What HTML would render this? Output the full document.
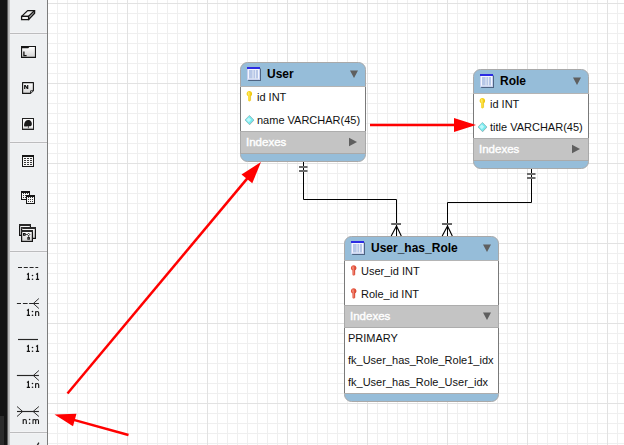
<!DOCTYPE html>
<html><head><meta charset="utf-8">
<style>
html,body{margin:0;padding:0;background:#fff;}
#root{position:relative;width:624px;height:445px;overflow:hidden;background:#fff;font-family:"Liberation Sans",sans-serif;}
svg{position:absolute;left:0;top:0;overflow:visible;}
.t{position:absolute;white-space:nowrap;font-size:11px;line-height:13px;color:#111;}
.h{position:absolute;white-space:nowrap;font-size:12px;line-height:14px;font-weight:bold;color:#000;}
.ix{position:absolute;white-space:nowrap;font-size:11.5px;line-height:13px;color:#fff;-webkit-text-stroke:0.4px #fff;}
</style></head>
<body><div id="root">
<svg width="624" height="445" viewBox="0 0 624 445" shape-rendering="crispEdges">
<defs>
    <pattern id="gmin" x="7" y="3" width="10" height="10" patternUnits="userSpaceOnUse">
      <rect x="0" y="0" width="1" height="10" fill="#efefef"/>
      <rect x="0" y="0" width="10" height="1" fill="#efefef"/>
    </pattern>
    <pattern id="gmaj" x="47" y="3" width="80" height="80" patternUnits="userSpaceOnUse">
      <rect x="0" y="0" width="1" height="80" fill="#e2e2e2"/>
      <rect x="0" y="0" width="80" height="1" fill="#e2e2e2"/>
    </pattern>
  </defs>
  <rect x="48" y="0" width="576" height="445" fill="url(#gmin)"/>
  <rect x="48" y="0" width="576" height="445" fill="url(#gmaj)"/>

  <rect x="0" y="0" width="7" height="445" fill="#141414"/>
  <rect x="7" y="0" width="1" height="445" fill="#5c5c5c"/>
  <rect x="8" y="0" width="1" height="445" fill="#b4b4b4"/>
  <rect x="9" y="0" width="1" height="445" fill="#c4c4c4"/>
  <rect x="10" y="0" width="37" height="445" fill="#eef0f2"/>
  <rect x="47" y="0" width="1" height="445" fill="#7d7d7d"/>
  <rect x="10" y="32" width="37" height="1" fill="#f3f3f5"/><rect x="10" y="33" width="37" height="1" fill="#bcbcbe"/><rect x="10" y="34" width="37" height="1" fill="#f3f3f5"/>
  <rect x="10" y="141" width="37" height="1" fill="#f3f3f5"/><rect x="10" y="142" width="37" height="1" fill="#bcbcbe"/><rect x="10" y="143" width="37" height="1" fill="#f3f3f5"/>
  <rect x="10" y="250" width="37" height="1" fill="#f3f3f5"/><rect x="10" y="251" width="37" height="1" fill="#bcbcbe"/><rect x="10" y="252" width="37" height="1" fill="#f3f3f5"/>
  <rect x="10" y="431" width="37" height="1" fill="#f3f3f5"/><rect x="10" y="432" width="37" height="1" fill="#bcbcbe"/><rect x="10" y="433" width="37" height="1" fill="#f3f3f5"/>
  <rect x="0" y="416" width="4" height="29" fill="#2b2b2b"/>

</svg>
<svg width="624" height="445" viewBox="0 0 624 445">
<defs><linearGradient id="lg" x1="0" y1="0" x2="0" y2="1"><stop offset="0" stop-color="#ffffff"/><stop offset="1" stop-color="#d4d4d4"/></linearGradient></defs>
<path d="M21.6,16.4 L27.6,10.6 L34.6,10.6 L28.6,16.4 Z" fill="#eeeeee" stroke="#151515" stroke-width="1.3" stroke-linejoin="round"/>
<rect x="21.6" y="16.4" width="7" height="3.2" fill="#ffffff" stroke="#151515" stroke-width="1.3"/>
<path d="M28.6,16.4 L34.6,10.6 L34.6,13.2 L28.6,19.6 Z" fill="#bbbbbb" stroke="#151515" stroke-width="1.3" stroke-linejoin="round"/>
<rect x="21" y="46" width="15" height="12" fill="#151515"/>
<path d="M22.1,48.3 H28.2 L29.4,47.1 H34.9 V56.8 H22.1 Z" fill="url(#lg)"/>
<path d="M23.9,51.6 V55.6 H26.6" fill="none" stroke="#151515" stroke-width="1.3"/>
<path d="M22.6,82.6 H33.4 V90.6 L30.4,93.4 H22.6 Z" fill="url(#lg)" stroke="#151515" stroke-width="1.15" stroke-linejoin="round"/>
<path d="M30.6,93 V90.8 H33" fill="#fff" stroke="#151515" stroke-width="0.9"/>
<path d="M24.1,88.9 V85.1 H25.6 L27.1,87.3 V85.1 H28.3 V88.9 H26.9 L25.3,86.6 V88.9 Z" fill="#151515"/>
<rect x="22" y="118" width="12" height="12" fill="#222"/>
<rect x="23" y="119" width="10" height="9.6" fill="#f8f8f8"/>
<path d="M24.1,126.1 C23.9,124.4 24.5,122.4 25.7,121.1 C26.5,120.1 27.7,119.7 28.9,120 C30.3,120.3 31.4,121.3 31.7,122.7 C32,124 31.8,125.4 31,126 C30.4,126.4 29.5,126.4 28.7,126.3 L28.7,128.6 H27.9 L27.9,126.3 C26.8,126.5 25.6,126.6 24.9,126.6 C24.5,126.6 24.2,126.5 24.1,126.1 Z" fill="#1a1a1a"/>
<rect x="23" y="127.8" width="10" height="0.8" fill="#a0a0a0"/>
<g shape-rendering="crispEdges"><rect x="22" y="155" width="12" height="12" fill="#161616"/>
<rect x="23" y="157" width="10" height="9" fill="#f6f6f6"/>
<rect x="24" y="158" width="2" height="1" fill="#3a3a3a"/>
<rect x="27" y="158" width="2" height="1" fill="#3a3a3a"/>
<rect x="30" y="158" width="2" height="1" fill="#3a3a3a"/>
<rect x="24" y="160" width="2" height="1" fill="#3a3a3a"/>
<rect x="27" y="160" width="2" height="1" fill="#3a3a3a"/>
<rect x="30" y="160" width="2" height="1" fill="#3a3a3a"/>
<rect x="24" y="162" width="2" height="1" fill="#3a3a3a"/>
<rect x="27" y="162" width="2" height="1" fill="#3a3a3a"/>
<rect x="30" y="162" width="2" height="1" fill="#3a3a3a"/>
<rect x="24" y="164" width="2" height="1" fill="#3a3a3a"/>
<rect x="27" y="164" width="2" height="1" fill="#3a3a3a"/>
<rect x="30" y="164" width="2" height="1" fill="#3a3a3a"/>
</g>
<g shape-rendering="crispEdges"><rect x="21" y="191" width="9" height="9" fill="#161616"/>
<rect x="22" y="193" width="7" height="6" fill="#f6f6f6"/>
<rect x="23" y="193" width="1" height="1" fill="#3a3a3a"/>
<rect x="25" y="193" width="1" height="1" fill="#3a3a3a"/>
<rect x="27" y="193" width="1" height="1" fill="#3a3a3a"/>
<rect x="23" y="195" width="1" height="1" fill="#3a3a3a"/>
<rect x="25" y="195" width="1" height="1" fill="#3a3a3a"/>
<rect x="27" y="195" width="1" height="1" fill="#3a3a3a"/>
<rect x="23" y="197" width="1" height="1" fill="#3a3a3a"/>
<rect x="25" y="197" width="1" height="1" fill="#3a3a3a"/>
<rect x="27" y="197" width="1" height="1" fill="#3a3a3a"/>
</g>
<g shape-rendering="crispEdges"><rect x="26" y="195" width="9" height="9" fill="#161616"/>
<rect x="27" y="197" width="7" height="6" fill="#f6f6f6"/>
<rect x="28" y="197" width="1" height="1" fill="#3a3a3a"/>
<rect x="30" y="197" width="1" height="1" fill="#3a3a3a"/>
<rect x="32" y="197" width="1" height="1" fill="#3a3a3a"/>
<rect x="28" y="199" width="1" height="1" fill="#3a3a3a"/>
<rect x="30" y="199" width="1" height="1" fill="#3a3a3a"/>
<rect x="32" y="199" width="1" height="1" fill="#3a3a3a"/>
<rect x="28" y="201" width="1" height="1" fill="#3a3a3a"/>
<rect x="30" y="201" width="1" height="1" fill="#3a3a3a"/>
<rect x="32" y="201" width="1" height="1" fill="#3a3a3a"/>
</g>
<rect x="19.6" y="224.6" width="10.8" height="10.8" fill="url(#lg)" stroke="#151515" stroke-width="1.2"/><rect x="19" y="224" width="12" height="2" fill="#2a2a2a"/>
<rect x="21.6" y="227.6" width="13.8" height="10.8" fill="url(#lg)" stroke="#151515" stroke-width="1.2"/><rect x="21" y="227" width="15" height="2" fill="#2a2a2a"/>
<rect x="21.6" y="230.6" width="10.8" height="10.8" fill="url(#lg)" stroke="#151515" stroke-width="1.2"/><rect x="21" y="230" width="12" height="2" fill="#2a2a2a"/>
<rect x="23.5" y="233.5" width="1.6" height="1.8" fill="#fff" stroke="#151515" stroke-width="1"/>
<path d="M28.6,233.2 L29.8,234.5 L28.6,235.8 L27.4,234.5 Z" fill="#fff" stroke="#151515" stroke-width="0.9"/>
<rect x="27.8" y="237.6" width="1.6" height="1.6" fill="#fff" stroke="#151515" stroke-width="1"/>
<path d="M25.1,234.5 H27.4 M28.6,235.8 V237.6" stroke="#151515" stroke-width="0.7"/>
<rect x="21.6" y="227.8" width="1.4" height="1.2" fill="#555"/>
<path d="M18,267.5 H38.2" stroke="#262626" stroke-width="1.15" stroke-dasharray="4,1.8"/>
<path d="M27.0,274.5 L28.400000000000002,273.6 V279.4 M26.8,279.4 H30.0" fill="none" stroke="#151515" stroke-width="1.2"/><circle cx="32.5" cy="275.5" r="0.8" fill="#151515"/><circle cx="32.5" cy="279.2" r="0.8" fill="#151515"/><path d="M36.1,274.5 L37.5,273.6 V279.4 M35.9,279.4 H39.1" fill="none" stroke="#151515" stroke-width="1.2"/>
<path d="M16.9,303.5 H38.9" stroke="#262626" stroke-width="1.15" stroke-dasharray="4.1,1.9,4.7,1.5,20"/>
<path d="M33.3,303.5 L38.9,298.5 M33.3,303.5 L38.9,308.5" fill="none" stroke="#262626" stroke-width="0.95"/>
<path d="M27.0,310.5 L28.400000000000002,309.6 V315.4 M26.8,315.4 H30.0" fill="none" stroke="#151515" stroke-width="1.2"/><circle cx="32.5" cy="311.5" r="0.8" fill="#151515"/><circle cx="32.5" cy="315.2" r="0.8" fill="#151515"/><path d="M35.6,311.3 V316 M35.6,312.7 Q35.8,311.5 37.2,311.5 Q38.7,311.5 38.7,312.9 V316" fill="none" stroke="#151515" stroke-width="1.1"/>
<path d="M18,339.5 H38" stroke="#262626" stroke-width="1.15"/>
<path d="M27.0,346.5 L28.400000000000002,345.6 V351.4 M26.8,351.4 H30.0" fill="none" stroke="#151515" stroke-width="1.2"/><circle cx="32.5" cy="347.5" r="0.8" fill="#151515"/><circle cx="32.5" cy="351.2" r="0.8" fill="#151515"/><path d="M36.1,346.5 L37.5,345.6 V351.4 M35.9,351.4 H39.1" fill="none" stroke="#151515" stroke-width="1.2"/>
<path d="M16.9,375.5 H38.9" stroke="#262626" stroke-width="1.15"/>
<path d="M33.3,375.5 L38.9,370.5 M33.3,375.5 L38.9,380.5" fill="none" stroke="#262626" stroke-width="0.95"/>
<path d="M27.0,382.5 L28.400000000000002,381.6 V387.4 M26.8,387.4 H30.0" fill="none" stroke="#151515" stroke-width="1.2"/><circle cx="32.5" cy="383.5" r="0.8" fill="#151515"/><circle cx="32.5" cy="387.2" r="0.8" fill="#151515"/><path d="M35.6,383.3 V388 M35.6,384.7 Q35.8,383.5 37.2,383.5 Q38.7,383.5 38.7,384.9 V388" fill="none" stroke="#151515" stroke-width="1.1"/>
<path d="M17,411.5 H38.9" stroke="#262626" stroke-width="1.15"/>
<path d="M33.1,411.5 L38.9,406.5 M33.1,411.5 L38.9,416.5" fill="none" stroke="#262626" stroke-width="0.95"/>
<path d="M22.7,411.5 L17,406.5 M22.7,411.5 L17,416.5" fill="none" stroke="#262626" stroke-width="0.95"/>
<path d="M23.200000000000003,419.3 V424 M23.200000000000003,420.7 Q23.400000000000002,419.5 24.8,419.5 Q26.3,419.5 26.3,420.9 V424" fill="none" stroke="#151515" stroke-width="1.1"/><circle cx="29.6" cy="419.5" r="0.8" fill="#151515"/><circle cx="29.6" cy="423.2" r="0.8" fill="#151515"/><path d="M33.0,419.3 V424 M33.0,420.7 Q33.199999999999996,419.5 34.3,419.5 Q35.699999999999996,419.5 35.699999999999996,420.9 V424 M35.699999999999996,420.7 Q35.9,419.5 37.1,419.5 Q38.5,419.5 38.5,420.9 V424" fill="none" stroke="#151515" stroke-width="1.05"/>
<path d="M37.2,445.5 L38.9,442.6" stroke="#262626" stroke-width="1.3"/>
</svg>
<div style="position:absolute;left:240px;top:62px;width:126px;height:100px;">
<svg width="126" height="100" style="left:0;top:0">
<path d="M0.5,7.5 A7,7 0 0 1 7.5,0.5 H118.5 A7,7 0 0 1 125.5,7.5 V92.5 A7,7 0 0 1 118.5,99.5 H7.5 A7,7 0 0 1 0.5,92.5 Z" fill="#96bdd9" stroke="#a9a9a9"/>
<rect x="0" y="24" width="126" height="45" fill="#fff"/>
<rect x="0" y="24" width="1" height="45" fill="#7a7a7a"/>
<rect x="125" y="24" width="1" height="45" fill="#7a7a7a"/>
<rect x="0" y="24" width="126" height="1" fill="#b4b4b4"/>
<rect x="0" y="69" width="126" height="22" fill="#c4c4c4"/>
<rect x="0" y="69" width="1" height="22" fill="#a9a9a9"/>
<rect x="125" y="69" width="1" height="22" fill="#a9a9a9"/>
<rect x="0" y="69" width="126" height="1" fill="#adadad"/>
<rect x="1" y="91" width="124" height="1" fill="#aaaaaa"/>
<g transform="translate(7,5)">
  <rect x="1.2" y="1.5" width="12.8" height="12.5" fill="#1e2848" opacity="0.6"/>
  <rect x="0" y="0" width="13" height="12.8" fill="#f4f6fd"/>
  <rect x="0.5" y="0.5" width="12" height="11.8" fill="none" stroke="#c8d2f2" stroke-width="1"/>
  <rect x="0" y="0" width="13" height="2" fill="#2b2be3"/>
  <rect x="2" y="3" width="9" height="8.5" fill="#b7c7e7"/>
  <rect x="5.6" y="3" width="0.8" height="8.5" fill="#eef2fb"/>
  <rect x="8.2" y="3" width="0.8" height="8.5" fill="#eef2fb"/>
</g>
<path d="M110,8.5 L118,8.5 L114,16.0 Z" fill="#5f5f5f"/>
<g transform="translate(6.5,29)">
  <path d="M2.9,0 C4.5,0 5.6,1.2 5.6,2.7 C5.6,3.9 5,4.7 4.2,5.1 L4.1,9.6 C4.1,10.1 3.6,10.4 2.9,10.4 C2.2,10.4 1.7,10.1 1.7,9.6 L1.6,5.1 C0.7,4.7 0.1,3.9 0.1,2.7 C0.1,1.2 1.3,0 2.9,0 Z" fill="#f7d21a"/>
  <path d="M1.9,1.1 C2.9,0.8 3.3,1.8 3.1,3 L2.9,9.6 L2.3,9.6 L2.1,4.4 C1,3.9 1,1.5 1.9,1.1 Z" fill="#fff27e" opacity="0.75"/>
  <path d="M4.4,1.3 C5.2,2.1 5.2,3.9 4.1,5 L4.1,9.6" fill="none" stroke="#dcae00" stroke-width="0.6" opacity="0.7"/>
</g>
<g>
  <path d="M9.8,53.7 L14.2,58.3 L9.8,62.9 L5.4,58.3 Z" fill="#8a9ea2" opacity="0.75"/>
  <path d="M9.4,53.4 L13.8,58 L9.4,62.6 L5.0,58 Z" fill="#78ecf0" stroke="#88b8bc" stroke-width="0.7"/>
  <path d="M8.8,55.4 L11.200000000000001,57.8 L8.8,60.2 L6.4,57.8 Z" fill="#c4fafc" opacity="0.9"/>
</g>
<path d="M109,75.8 L117,80.0 L109,84.3 Z" fill="#5f5f5f"/>
</svg>
<div class="h" style="left:27px;top:5.04px">User</div>
<div class="t" style="left:17px;top:29.09px">id INT</div>
<div class="t" style="left:17px;top:52.09px">name VARCHAR(45)</div>
<div class="ix" style="left:6px;top:73.79px">Indexes</div>
</div>
<div style="position:absolute;left:473px;top:69px;width:116px;height:100px;">
<svg width="116" height="100" style="left:0;top:0">
<path d="M0.5,7.5 A7,7 0 0 1 7.5,0.5 H108.5 A7,7 0 0 1 115.5,7.5 V92.5 A7,7 0 0 1 108.5,99.5 H7.5 A7,7 0 0 1 0.5,92.5 Z" fill="#96bdd9" stroke="#a9a9a9"/>
<rect x="0" y="24" width="116" height="45" fill="#fff"/>
<rect x="0" y="24" width="1" height="45" fill="#7a7a7a"/>
<rect x="115" y="24" width="1" height="45" fill="#7a7a7a"/>
<rect x="0" y="24" width="116" height="1" fill="#b4b4b4"/>
<rect x="0" y="69" width="116" height="22" fill="#c4c4c4"/>
<rect x="0" y="69" width="1" height="22" fill="#a9a9a9"/>
<rect x="115" y="69" width="1" height="22" fill="#a9a9a9"/>
<rect x="0" y="69" width="116" height="1" fill="#adadad"/>
<rect x="1" y="91" width="114" height="1" fill="#aaaaaa"/>
<g transform="translate(7,5)">
  <rect x="1.2" y="1.5" width="12.8" height="12.5" fill="#1e2848" opacity="0.6"/>
  <rect x="0" y="0" width="13" height="12.8" fill="#f4f6fd"/>
  <rect x="0.5" y="0.5" width="12" height="11.8" fill="none" stroke="#c8d2f2" stroke-width="1"/>
  <rect x="0" y="0" width="13" height="2" fill="#2b2be3"/>
  <rect x="2" y="3" width="9" height="8.5" fill="#b7c7e7"/>
  <rect x="5.6" y="3" width="0.8" height="8.5" fill="#eef2fb"/>
  <rect x="8.2" y="3" width="0.8" height="8.5" fill="#eef2fb"/>
</g>
<path d="M100,8.5 L108,8.5 L104,16.0 Z" fill="#5f5f5f"/>
<g transform="translate(6.5,29)">
  <path d="M2.9,0 C4.5,0 5.6,1.2 5.6,2.7 C5.6,3.9 5,4.7 4.2,5.1 L4.1,9.6 C4.1,10.1 3.6,10.4 2.9,10.4 C2.2,10.4 1.7,10.1 1.7,9.6 L1.6,5.1 C0.7,4.7 0.1,3.9 0.1,2.7 C0.1,1.2 1.3,0 2.9,0 Z" fill="#f7d21a"/>
  <path d="M1.9,1.1 C2.9,0.8 3.3,1.8 3.1,3 L2.9,9.6 L2.3,9.6 L2.1,4.4 C1,3.9 1,1.5 1.9,1.1 Z" fill="#fff27e" opacity="0.75"/>
  <path d="M4.4,1.3 C5.2,2.1 5.2,3.9 4.1,5 L4.1,9.6" fill="none" stroke="#dcae00" stroke-width="0.6" opacity="0.7"/>
</g>
<g>
  <path d="M9.8,53.7 L14.2,58.3 L9.8,62.9 L5.4,58.3 Z" fill="#8a9ea2" opacity="0.75"/>
  <path d="M9.4,53.4 L13.8,58 L9.4,62.6 L5.0,58 Z" fill="#78ecf0" stroke="#88b8bc" stroke-width="0.7"/>
  <path d="M8.8,55.4 L11.200000000000001,57.8 L8.8,60.2 L6.4,57.8 Z" fill="#c4fafc" opacity="0.9"/>
</g>
<path d="M99,75.8 L107,80.0 L99,84.3 Z" fill="#5f5f5f"/>
</svg>
<div class="h" style="left:27px;top:5.04px">Role</div>
<div class="t" style="left:17px;top:29.09px">id INT</div>
<div class="t" style="left:17px;top:52.09px">title VARCHAR(45)</div>
<div class="ix" style="left:6px;top:73.79px">Indexes</div>
</div>
<div style="position:absolute;left:344px;top:236px;width:155px;height:166px;">
<svg width="155" height="166" style="left:0;top:0">
<path d="M0.5,7.5 A7,7 0 0 1 7.5,0.5 H147.5 A7,7 0 0 1 154.5,7.5 V158.5 A7,7 0 0 1 147.5,165.5 H7.5 A7,7 0 0 1 0.5,158.5 Z" fill="#96bdd9" stroke="#a9a9a9"/>
<rect x="0" y="24" width="155" height="45" fill="#fff"/>
<rect x="0" y="24" width="1" height="45" fill="#7a7a7a"/>
<rect x="154" y="24" width="1" height="45" fill="#7a7a7a"/>
<rect x="0" y="24" width="155" height="1" fill="#b4b4b4"/>
<rect x="0" y="69" width="155" height="22" fill="#c4c4c4"/>
<rect x="0" y="69" width="1" height="22" fill="#a9a9a9"/>
<rect x="154" y="69" width="1" height="22" fill="#a9a9a9"/>
<rect x="0" y="69" width="155" height="1" fill="#adadad"/>
<rect x="0" y="91" width="155" height="66" fill="#fff"/>
<rect x="0" y="91" width="1" height="66" fill="#7a7a7a"/>
<rect x="154" y="91" width="1" height="66" fill="#7a7a7a"/>
<rect x="0" y="91" width="155" height="1" fill="#adadad"/>
<rect x="0" y="157" width="155" height="1" fill="#adadad"/>
<g transform="translate(7,5)">
  <rect x="1.2" y="1.5" width="12.8" height="12.5" fill="#1e2848" opacity="0.6"/>
  <rect x="0" y="0" width="13" height="12.8" fill="#f4f6fd"/>
  <rect x="0.5" y="0.5" width="12" height="11.8" fill="none" stroke="#c8d2f2" stroke-width="1"/>
  <rect x="0" y="0" width="13" height="2" fill="#2b2be3"/>
  <rect x="2" y="3" width="9" height="8.5" fill="#b7c7e7"/>
  <rect x="5.6" y="3" width="0.8" height="8.5" fill="#eef2fb"/>
  <rect x="8.2" y="3" width="0.8" height="8.5" fill="#eef2fb"/>
</g>
<path d="M139,8.5 L147,8.5 L143,16.0 Z" fill="#5f5f5f"/>
<g transform="translate(6.8,29.2)">
  <path d="M2.9,0 C4.5,0 5.6,1.2 5.6,2.7 C5.6,3.9 5,4.7 4.2,5.1 L4.1,9.6 C4.1,10.1 3.6,10.4 2.9,10.4 C2.2,10.4 1.7,10.1 1.7,9.6 L1.6,5.1 C0.7,4.7 0.1,3.9 0.1,2.7 C0.1,1.2 1.3,0 2.9,0 Z" fill="#e4553f"/>
  <path d="M1.9,1.1 C2.9,0.8 3.3,1.8 3.1,3 L2.9,9.6 L2.3,9.6 L2.1,4.4 C1,3.9 1,1.5 1.9,1.1 Z" fill="#f49a88" opacity="0.75"/>
  <path d="M4.4,1.3 C5.2,2.1 5.2,3.9 4.1,5 L4.1,9.6" fill="none" stroke="#c43a28" stroke-width="0.6" opacity="0.7"/>
</g>
<g transform="translate(6.8,52.2)">
  <path d="M2.9,0 C4.5,0 5.6,1.2 5.6,2.7 C5.6,3.9 5,4.7 4.2,5.1 L4.1,9.6 C4.1,10.1 3.6,10.4 2.9,10.4 C2.2,10.4 1.7,10.1 1.7,9.6 L1.6,5.1 C0.7,4.7 0.1,3.9 0.1,2.7 C0.1,1.2 1.3,0 2.9,0 Z" fill="#e4553f"/>
  <path d="M1.9,1.1 C2.9,0.8 3.3,1.8 3.1,3 L2.9,9.6 L2.3,9.6 L2.1,4.4 C1,3.9 1,1.5 1.9,1.1 Z" fill="#f49a88" opacity="0.75"/>
  <path d="M4.4,1.3 C5.2,2.1 5.2,3.9 4.1,5 L4.1,9.6" fill="none" stroke="#c43a28" stroke-width="0.6" opacity="0.7"/>
</g>
<path d="M139,76.5 L147,76.5 L143,84.0 Z" fill="#5f5f5f"/>
</svg>
<div class="h" style="left:27px;top:5.04px">User_has_Role</div>
<div class="t" style="left:17px;top:29.09px">User_id INT</div>
<div class="t" style="left:17px;top:52.09px">Role_id INT</div>
<div class="ix" style="left:6px;top:73.79px">Indexes</div>
<div class="t" style="left:4px;top:96.39px">PRIMARY</div>
<div class="t" style="left:4px;top:118.39px">fk_User_has_Role_Role1_idx</div>
<div class="t" style="left:4px;top:140.39px">fk_User_has_Role_User_idx</div>
</div>
<svg width="624" height="445" viewBox="0 0 624 445">
<path d="M303.5,162 V199.5 H396.5 V236" fill="none" stroke="#000" stroke-width="1"/>
<rect x="299" y="166" width="8.5" height="2" fill="#6c6c6c"/><rect x="299" y="170" width="8.5" height="2" fill="#6c6c6c"/>
<rect x="391.2" y="223" width="9.8" height="2" fill="#666666"/>
<path d="M396.5,226 L391.2,236 M396.5,226 L401.3,236" stroke="#000" stroke-width="1.15" fill="none"/>
<path d="M531.5,169 V202.5 H447.5 V236" fill="none" stroke="#000" stroke-width="1"/>
<rect x="527" y="173" width="8.5" height="2" fill="#6c6c6c"/><rect x="527" y="177" width="8.5" height="2" fill="#6c6c6c"/>
<rect x="442" y="223" width="10" height="2" fill="#666666"/>
<path d="M447.5,226 L442.2,236 M447.5,226 L452.3,236" stroke="#000" stroke-width="1.15" fill="none"/>
<line x1="370.00" y1="125.00" x2="455.00" y2="125.00" stroke="#ff0000" stroke-width="2.5"/><path d="M476.00,125.00 L454.00,132.00 L454.00,118.00 Z" fill="#ff0000"/>
<line x1="67.50" y1="393.50" x2="247.53" y2="178.11" stroke="#ff0000" stroke-width="2.5"/><path d="M261.00,162.00 L252.26,183.37 L241.52,174.39 Z" fill="#ff0000"/>
<line x1="128.50" y1="435.00" x2="73.77" y2="419.84" stroke="#ff0000" stroke-width="2.5"/><path d="M54.50,414.50 L76.47,413.84 L73.00,426.37 Z" fill="#ff0000"/>
</svg>
</div></body></html>
